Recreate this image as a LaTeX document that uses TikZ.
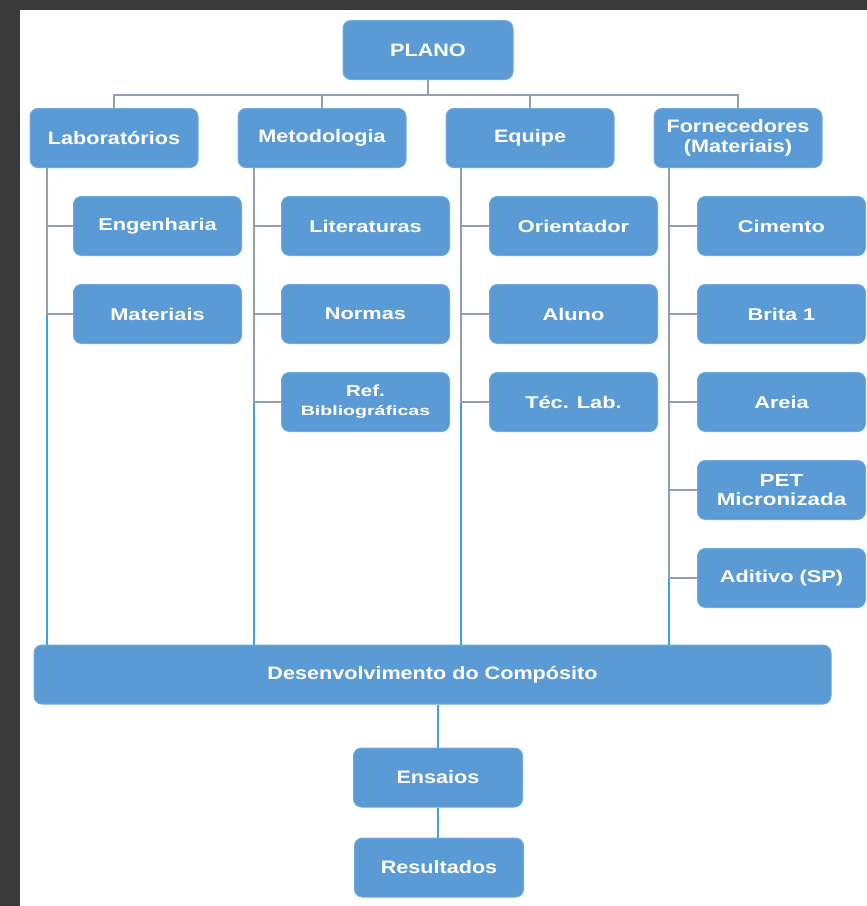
\documentclass[tikz,border=0pt]{standalone}
\usepackage{fontspec}
\setmainfont{Liberation Sans}
\newfontfamily\topfont[FakeStretch=1.2]{Liberation Sans}
\newfontfamily\subfont[FakeStretch=1.28]{Liberation Sans}
\newfontfamily\widefont[FakeStretch=1.45]{Liberation Sans}
\definecolor{boxblue}{HTML}{5B9BD5}
\definecolor{boxedge}{HTML}{6FA9DD}
\definecolor{linegray}{HTML}{94A0AC}
\definecolor{lineblue}{HTML}{42A0DF}
\definecolor{bgdark}{HTML}{3A3A3A}
\begin{document}
\begin{tikzpicture}[x=1pt,y=-1pt,
  box/.style={rounded corners=8pt, fill=boxblue, draw=boxedge, line width=1pt,
    minimum width=168pt, minimum height=59pt, inner sep=2pt, text=white, align=center},
  topbox/.style={box, font=\topfont\bfseries\fontsize{18}{19}\selectfont},
  subbox/.style={box, font=\subfont\bfseries\fontsize{17}{18}\selectfont},
  gline/.style={draw=linegray, line width=2pt},
  bline/.style={draw=lineblue, line width=2pt}]
\useasboundingbox (0,0) rectangle (867,906);
\fill[bgdark] (0,0) rectangle (867,906);
\fill[white] (20,10) rectangle (867,906);

% top level
\node[topbox, minimum width=170pt] (plano) at (428,50) {PLANO};
\node[topbox] (lab) at (114,138) {Laboratórios};
\node[topbox] (met) at (322,138) {Metodologia};
\node[topbox] (equ) at (530,138) {Equipe};
\node[topbox, font=\topfont\bfseries\fontsize{18}{20}\selectfont] (forn) at (738,138) {Fornecedores\\(Materiais)};

% sub level
\node[subbox] (eng) at (157.5,226) {Engenharia};
\node[subbox] (mat) at (157.5,314) {Materiais};
\node[subbox] (lit) at (365.5,226) {Literaturas};
\node[subbox] (nor) at (365.5,314) {Normas};
\node[subbox, font=\subfont\bfseries\fontsize{16}{19}\selectfont] (ref) at (365.5,402) {Ref.\\{\widefont\fontsize{13.5}{19}\selectfont Bibliográficas}};
\node[subbox] (ori) at (573.5,226) {Orientador};
\node[subbox] (alu) at (573.5,314) {Aluno};
\node[subbox] (tec) at (573.5,402) {Téc. Lab.};
\node[subbox] (cim) at (781.5,226) {Cimento};
\node[subbox] (bri) at (781.5,314) {Brita 1};
\node[subbox] (are) at (781.5,402) {Areia};
\node[subbox, font=\subfont\bfseries\fontsize{17.5}{19}\selectfont] (pet) at (781.5,490) {PET\\Micronizada};
\node[subbox] (adi) at (781.5,578) {Aditivo (SP)};

% bottom
\node[topbox, minimum width=797pt] (dev) at (432.5,674.5) {Desenvolvimento do Compósito};
\node[topbox, minimum width=169pt] (ens) at (438,777.5) {Ensaios};
\node[topbox, minimum width=169pt] (res) at (439,867.5) {Resultados};

% top bus
\coordinate (busL) at (114,95);
\coordinate (busR) at (738,95);
\draw[gline] (plano.south) -- (plano.south |- busL);
\draw[gline] (lab.north) -- (busL) -- (busR) -- (forn.north);
\draw[gline] (met.north) -- (met.north |- busL);
\draw[gline] (equ.north) -- (equ.north |- busL);

% trunks
\coordinate (tl) at ([xshift=17pt]lab.south west);
\coordinate (tm) at ([xshift=16pt]met.south west);
\coordinate (te) at ([xshift=15pt]equ.south west);
\coordinate (tf) at ([xshift=15pt]forn.south west);
\foreach \t in {tl,tm,te,tf}{
  \draw[bline] (\t) -- (\t |- dev.north);
}
\draw[gline] (tl) |- (eng.west);
\draw[gline] (tl) |- (mat.west);
\draw[gline] (tm) |- (lit.west);
\draw[gline] (tm) |- (nor.west);
\draw[gline] (tm) |- (ref.west);
\draw[gline] (te) |- (ori.west);
\draw[gline] (te) |- (alu.west);
\draw[gline] (te) |- (tec.west);
\draw[gline] (tf) |- (cim.west);
\draw[gline] (tf) |- (bri.west);
\draw[gline] (tf) |- (are.west);
\draw[gline] (tf) |- (pet.west);
\draw[gline] (tf) |- (adi.west);

% bottom chain
\draw[bline] (ens.north |- dev.south) -- (ens.north);
\draw[bline] (ens.south) -- (ens.south |- res.north);
\end{tikzpicture}
\end{document}
